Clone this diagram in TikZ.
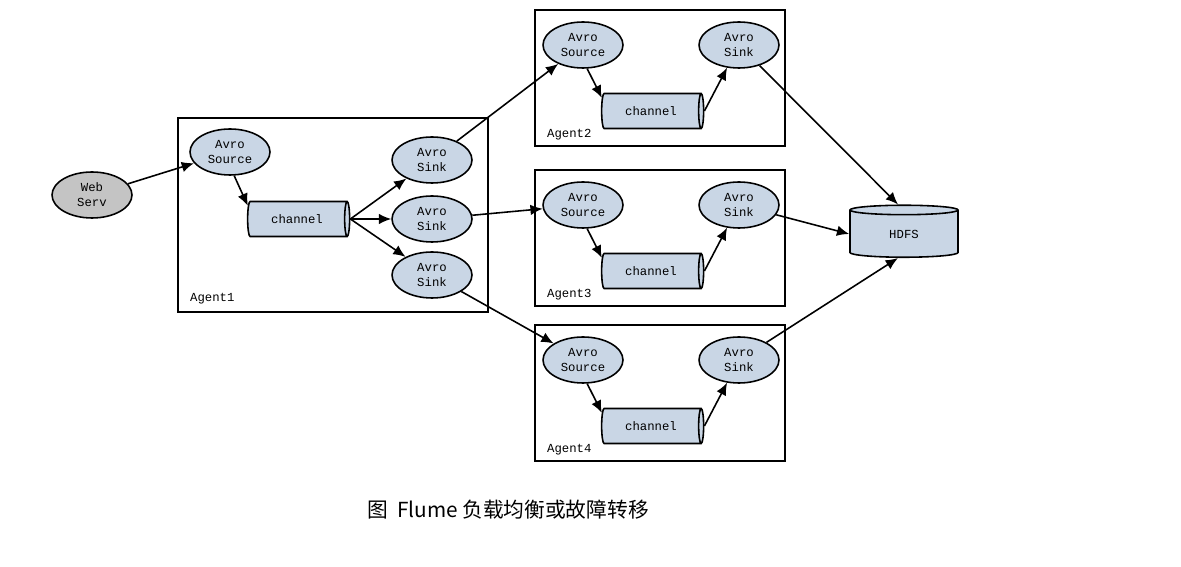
\documentclass[tikz,border=0pt]{standalone}
\usepackage{fontspec}
\setmonofont{Liberation Mono}
\newfontfamily\cjk{Noto Sans CJK SC}
\usetikzlibrary{arrows.meta,shapes.geometric,calc}
\definecolor{compfill}{HTML}{C9D6E5}
\definecolor{webfill}{HTML}{C4C4C4}

\begin{document}
\begin{tikzpicture}[x=0.02cm,y=-0.02cm,
    every node/.style={font=\ttfamily\fontsize{7}{8.5}\selectfont,align=center},
    comp/.style={ellipse,draw,line width=0.9pt,fill=compfill,minimum width=1.6cm,minimum height=0.92cm,inner sep=0pt},
    chan/.style={cylinder,draw,line width=0.9pt,fill=compfill,shape aspect=0.55,minimum width=0.7cm,minimum height=2.04cm,inner sep=0pt},
    agentbox/.style={draw,line width=0.9pt,minimum width=5cm,minimum height=2.72cm,inner sep=0pt},
    flow/.style={-{Latex[length=7pt,width=6pt]},line width=0.9pt}]
  \useasboundingbox (0,0) rectangle (1181,567);

  % first agent
  \node[agentbox,minimum width=6.2cm,minimum height=3.88cm] (ag1) at (333,215) {};
  \node[anchor=west] (lab1) at (184,299) {Agent1};
  \node[comp,fill=webfill] (web) at (92,195) {Web\\Serv};
  \node[comp] (src1) at (230,152) {Avro\\Source};
  \node[chan] (ch1) at (297,219) {channel};
  \node[comp] (snk1a) at (432,160) {Avro\\Sink};
  \node[comp] (snk1b) at (432,219) {Avro\\Sink};
  \node[comp] (snk1c) at (432,275) {Avro\\Sink};

  \draw[flow] (web) -- (src1);
  \draw[flow] (src1.-80) -- (ch1.165);
  \foreach \s in {a,b,c}
    \draw[flow] (ch1.east) -- (snk1\s);

  % the three downstream agents
  \foreach \k/\t in {2/10,3/170,4/325} {
    \node[agentbox] (ag\k) at (660,\t+68) {};
    \node[anchor=west] (lab\k) at (541,\t+125) {Agent\k};
    \node[comp] (src\k) at (583,\t+35) {Avro\\Source};
    \node[comp] (snk\k) at (739,\t+35) {Avro\\Sink};
    \node[chan] (ch\k) at (651,\t+101) {channel};
    \draw[flow] (src\k.-80) -- (ch\k.165);
    \draw[flow] (ch\k.east) -- (snk\k);
  }

  \draw[flow] (snk1a) -- (src2);
  \draw[flow] (snk1b) -- (src3);
  \draw[flow] (snk1c) -- (src4);

  \node[cylinder,shape border rotate=90,draw,line width=0.9pt,fill=compfill,shape aspect=0.32,
    minimum width=2.16cm,minimum height=1.04cm,inner sep=0pt] (hdfs) at (904,234) {HDFS};
  \draw[flow] (snk2) -- ($(hdfs.north)+(-6,0)$);
  \draw[flow] (snk3) -- (hdfs.west);
  \draw[flow] (snk4) -- ($(hdfs.south)+(-6,0)$);

  \node[font=\cjk\fontsize{11.8}{13}\selectfont] (cap) at (508,510) {图~~Flume 负载均衡或故障转移};
\end{tikzpicture}
\end{document}
